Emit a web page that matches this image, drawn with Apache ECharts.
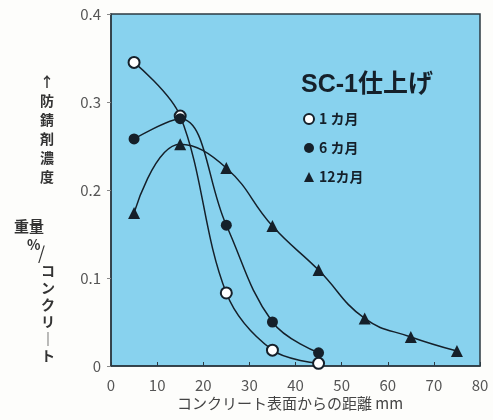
<!DOCTYPE html>
<html>
<head>
<meta charset="utf-8">
<script src="https://cdn.jsdelivr.net/npm/echarts@6/dist/echarts.min.js"></script>
<style>
  html, body { margin: 0; padding: 0; background: #fdfdfb; }
  #main { width: 493px; height: 420px; }
</style>
</head>
<body>
<div id="main"></div>
<script>
  // 値は図から読み取り
  const distances = [5, 15, 25, 35, 45, 55, 65, 75];
  const month1 = [0.345, 0.284, 0.083, 0.018, 0.003];
  const month6 = [0.258, 0.281, 0.160, 0.050, 0.015];
  const month12 = [0.174, 0.252, 0.225, 0.159, 0.109, 0.054, 0.033, 0.017];
  const seriesNames = ['1 カ月', '6 カ月', '12カ月'];
  const yTicks = [0, 0.1, 0.2, 0.3, 0.4];

  const ink = '#15202a';
  const jp = '"Noto Sans CJK JP", "Noto Sans", sans-serif';

  function pairs(values) {
    return values.map((v, i) => [distances[i], v]);
  }

  const chart = echarts.init(document.getElementById('main'));

  const option = {
    backgroundColor: '#fdfdfb',
    animation: false,
    textStyle: { fontFamily: jp },
    grid: {
      left: 111, right: 13, top: 14, bottom: 54,
      show: true,
      backgroundColor: '#88d2ee',
      borderColor: '#2c3a42',
      borderWidth: 1.5
    },
    title: {
      text: 'SC-1仕上げ',
      left: 296, top: 68,
      textStyle: {
        fontSize: 25, fontWeight: 'bold', color: ink,
        fontFamily: '"Liberation Sans", "Noto Sans CJK JP", sans-serif'
      }
    },
    legend: {
      orient: 'vertical',
      left: 298, top: 107,
      itemWidth: 10, itemHeight: 10, itemGap: 15,
      textStyle: { fontSize: 14, color: ink, fontWeight: 'bold', fontFamily: jp },
      data: [
        { name: seriesNames[0], icon: 'circle', itemStyle: { color: '#fff', borderColor: ink, borderWidth: 2 } },
        { name: seriesNames[1], icon: 'circle' },
        { name: seriesNames[2], icon: 'triangle' }
      ]
    },
    xAxis: {
      type: 'value',
      min: 0, max: 80, interval: 10,
      axisLine: { show: true, lineStyle: { color: '#2c3a42', width: 1.5 } },
      axisTick: { show: true, inside: true, length: 4, lineStyle: { color: '#2c3a42' } },
      splitLine: { show: false },
      axisLabel: { fontSize: 15, color: '#555', margin: 12, fontFamily: jp }
    },
    yAxis: {
      type: 'value',
      min: 0, max: 0.4, interval: 0.1,
      axisLine: { show: true, lineStyle: { color: '#2c3a42', width: 1.5 } },
      axisTick: { show: true, length: 4, lineStyle: { color: '#888' } },
      splitLine: { show: false },
      axisLabel: {
        fontSize: 15, color: '#555', margin: 10, fontFamily: jp,
        formatter: v => (yTicks.indexOf(v) >= 0 ? String(v) : '')
      }
    },
    series: [
      {
        name: seriesNames[0], type: 'line', smooth: 0.35,
        data: pairs(month1),
        symbol: 'circle', symbolSize: 11,
        lineStyle: { color: ink, width: 1.5 },
        itemStyle: { color: '#fff', borderColor: ink, borderWidth: 2 }
      },
      {
        name: seriesNames[1], type: 'line', smooth: 0.4,
        data: pairs(month6),
        symbol: 'circle', symbolSize: 11,
        lineStyle: { color: ink, width: 1.5 },
        itemStyle: { color: ink }
      },
      {
        name: seriesNames[2], type: 'line', smooth: 0.45,
        data: pairs(month12),
        symbol: 'triangle', symbolSize: 12,
        lineStyle: { color: ink, width: 1.5 },
        itemStyle: { color: ink }
      }
    ],
    graphic: [
      {
        type: 'text', left: 177, top: 396,
        style: { text: 'コンクリート表面からの距離 mm', fontSize: 15, fill: '#444', fontFamily: jp }
      },
      {
        type: 'text', left: 40, top: 72,
        style: { text: '↑\n防\n錆\n剤\n濃\n度', fontSize: 14, lineHeight: 19, fill: '#333', fontWeight: 'bold', fontFamily: jp }
      },
      {
        type: 'text', left: 14, top: 219,
        style: { text: '重量', fontSize: 15, fill: '#333', fontWeight: 'bold', fontFamily: jp }
      },
      {
        type: 'text', left: 27, top: 238,
        style: { text: '%', fontSize: 14, fill: '#333', fontWeight: 'bold', fontFamily: jp }
      },
      {
        type: 'text', left: 38, top: 244,
        style: { text: '/', fontSize: 18, fill: '#333', fontFamily: jp }
      },
      {
        type: 'text', left: 41, top: 262,
        style: { text: 'コ\nン\nク\nリ\n｜\nト', fontSize: 14, lineHeight: 17, fill: '#333', fontWeight: 'bold', fontFamily: jp }
      }
    ]
  };

  chart.setOption(option);
</script>
</body>
</html>
